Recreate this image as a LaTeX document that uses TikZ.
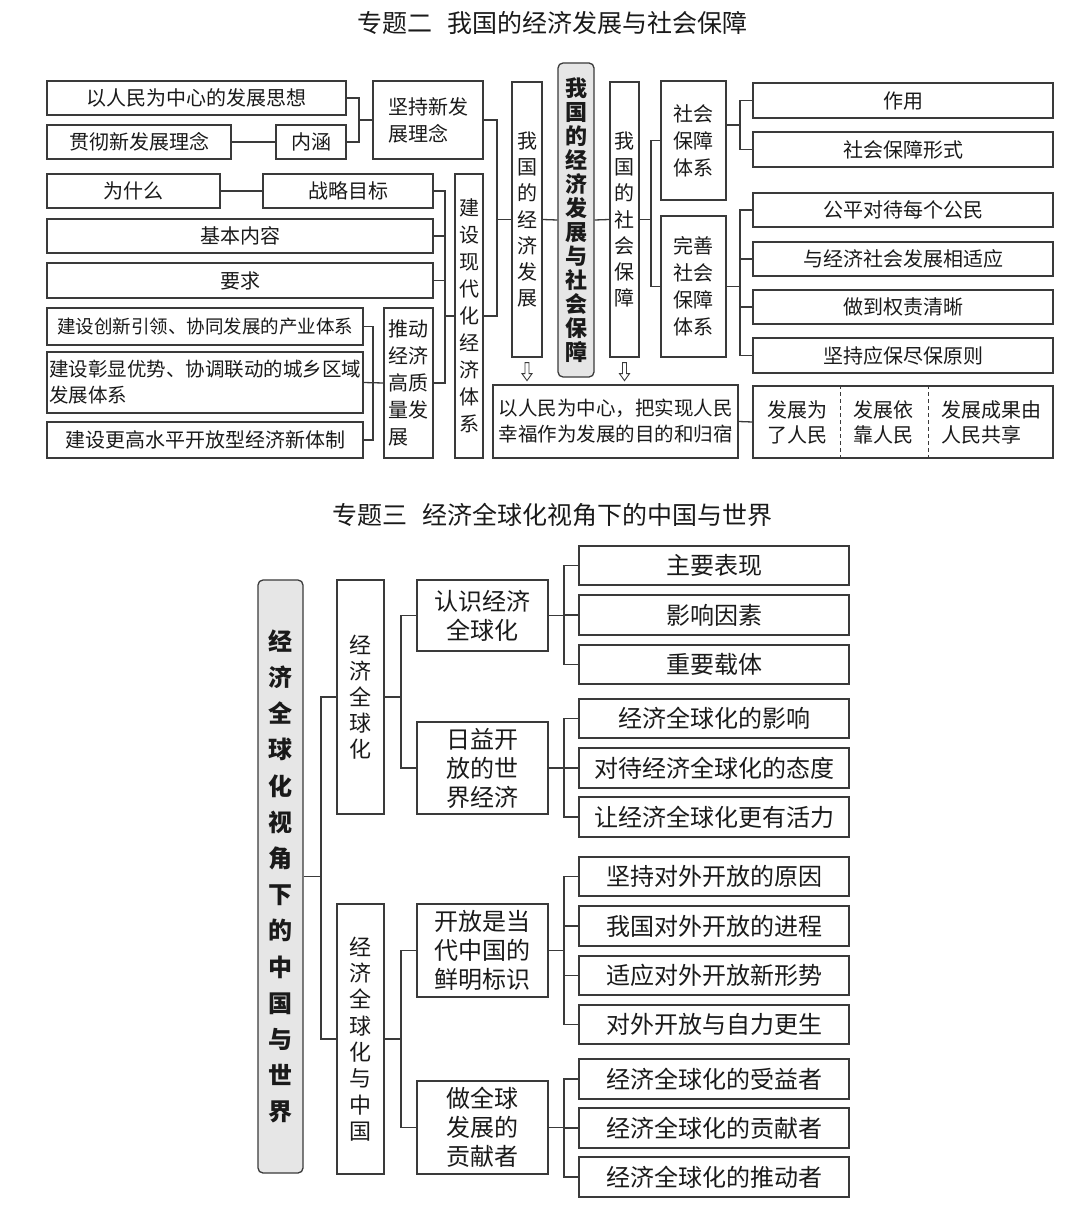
\documentclass[tikz,border=0pt]{standalone}
\usepackage{fontspec}
\setmainfont{Noto Sans CJK SC}
\usetikzlibrary{calc}
\definecolor{lc}{HTML}{3A3A3A}
\definecolor{tc}{HTML}{1A1A1A}
\definecolor{bgc}{HTML}{E6E6E6}
\newcommand\fsz[2]{\fontsize{#1pt}{#2pt}\selectfont}
\newcommand\bx[7][]{%
  \pgfmathsetmacro\bxw{#5-#3}\pgfmathsetmacro\bxh{#6-#4}%
  \pgfmathsetmacro\bxx{(#3+#5)/2}\pgfmathsetmacro\bxy{(#4+#6)/2}%
  \node[box,minimum width=\bxw pt,minimum height=\bxh pt,#1] (#2) at (\bxx,\bxy) {#7};}
\newcommand\harrow[1]{\draw[lc,line width=0.9pt,fill=white,line join=miter]
  ($(#1)+(-2,5)$) -- ++(4,0) -- ++(0,11) -- ++(3,0) -- ++(-5,7) -- ++(-5,-7) -- ++(3,0) -- cycle;}
\tikzset{
  box/.style={draw=lc,line width=1.3pt,fill=white,inner sep=0pt,text=tc,font=\fsz{20}{27},align=center},
  rbox/.style={rounded corners=5pt,fill=bgc,font=\bfseries\fsz{22}{24}},
  ln/.style={draw=lc,line width=1.3pt},
  txt/.style={inner sep=0pt,text=tc,font=\fsz{20}{25},align=center},
  ttl/.style={inner sep=0pt,text=tc,font=\fsz{25}{29}},
}
\begin{document}
\begin{tikzpicture}[x=1pt,y=-1pt]
\useasboundingbox[fill=white] (0,0) rectangle (1080,1220);
% ---------------- Title 1
\node[ttl] (t1) at (552,23) {专题二\hspace{0.6em}我国的经济发展与社会保障};
% ---------------- top section boxes
\bx{a1}{47}{81}{346}{115}{以人民为中心的发展思想}
\bx{a2}{47}{125}{231}{159}{贯彻新发展理念}
\bx{a3}{276}{125}{346}{159}{内涵}
\bx[align=left]{a4}{373}{81}{483}{159}{坚持新发\\展理念}
\bx{b1}{47}{174}{220}{208}{为什么}
\bx{b2}{263}{174}{433}{208}{战略目标}
\bx{b3}{47}{219}{433}{253}{基本内容}
\bx{b4}{47}{263}{433}{298}{要求}
\bx[font=\fsz{18.5}{24}]{c1}{47}{308}{363}{345}{建设创新引领、协同发展的产业体系}
\bx[align=left,font=\fsz{19.5}{26}]{c2}{47}{352}{363}{413}{建设彰显优势、协调联动的城乡区域\\发展体系}
\bx{c3}{47}{422}{363}{458}{建设更高水平开放型经济新体制}
\bx[align=left]{c4}{384}{308}{433}{458}{推动\\经济\\高质\\量发\\展}
\bx{d1}{455}{174}{483}{458}{建\\设\\现\\代\\化\\经\\济\\体\\系}
\bx[font=\fsz{20}{26.3}]{e1}{512}{82}{542}{357}{我\\国\\的\\经\\济\\发\\展}
\bx[rbox]{e0}{558}{63}{594}{377}{我\\国\\的\\经\\济\\发\\展\\与\\社\\会\\保\\障}
\bx[font=\fsz{20}{26.3}]{e2}{610}{82}{639}{357}{我\\国\\的\\社\\会\\保\\障}
\bx{f1}{661}{81}{726}{200}{社会\\保障\\体系}
\bx{f2}{661}{216}{726}{357}{完善\\社会\\保障\\体系}
\bx{g1}{753}{83}{1053}{118}{作用}
\bx{g2}{753}{132}{1053}{167}{社会保障形式}
\bx{g3}{753}{193}{1053}{227}{公平对待每个公民}
\bx{g4}{753}{242}{1053}{276}{与经济社会发展相适应}
\bx{g5}{753}{290}{1053}{324}{做到权责清晰}
\bx{g6}{753}{338}{1053}{373}{坚持应保尽保原则}
\bx[font=\fsz{19.5}{26}]{h1}{493}{385}{738}{458}{以人民为中心，把实现人民\\幸福作为发展的目的和归宿}
\bx{h2}{753}{386}{1053}{458}{}
\node[txt] (h2a) at (797,422) {发展为\\了人民};
\node[txt] (h2b) at (883,422) {发展依\\靠人民};
\node[txt,align=left] (h2c) at (991,422) {发展成果由\\人民共享};
\draw[ln,line width=1pt,dash pattern=on 4pt off 3pt] (h2.north -| 840,0) -- (h2.south -| 840,0);
\draw[ln,line width=1pt,dash pattern=on 4pt off 3pt] (h2.north -| 928,0) -- (h2.south -| 928,0);
% ---------------- top connectors
\coordinate (k1) at (359,0);
\coordinate (k2) at (497,0);
\coordinate (k3) at (445,0);
\coordinate (k4) at (373,0);
\coordinate (k5) at (651,0);
\coordinate (k6) at (740,0);
\draw[ln] (a2.east) -- (a3.west);
\draw[ln] (a1.east) -| (k1 |- a3.east) -- (a3.east);
\draw[ln] (k1 |- a4.west) -- (a4.west);
\draw[ln] (a4.east) -| (k2 |- d1.east) -- (d1.east);
\draw[ln] (k2 |- e1.west) -- (e1.west);
\draw[ln] (b1.east) -- (b2.west);
\draw[ln] (b2.east) -| (k3 |- c4.east) -- (c4.east);
\draw[ln] (b3.east) -- (k3 |- b3.east);
\draw[ln] (b4.east) -- (k3 |- b4.east);
\draw[ln] (k3 |- d1.west) -- (d1.west);
\draw[ln] (c1.east) -| (k4 |- c3.east) -- (c3.east);
\draw[ln] (c2.east) -- (c4.west);
\draw[ln] (e1.east) -- (e0.west);
\draw[ln] (e0.east) -- (e2.west);
\draw[ln] (f1.west) -| (k5 |- f2.west) -- (f2.west);
\draw[ln] (e2.east) -- (k5 |- e2.east);
\coordinate (m1) at ($(g1.west)!0.5!(g2.west)$);
\draw[ln] (g1.west) -| (k6 |- g2.west) -- (g2.west);
\draw[ln] (f1.east |- m1) -- (k6 |- m1);
\draw[ln] (g3.west) -| (k6 |- g6.west) -- (g6.west);
\draw[ln] (g4.west) -- (k6 |- g4.west);
\draw[ln] (g5.west) -- (k6 |- g5.west);
\draw[ln] (f2.east) -- (k6 |- f2.east);
\draw[ln] (h1.east) -- (h2.west);
\harrow{e1.south}
\harrow{e2.south}
% ---------------- Title 2
\node[ttl] (t2) at (552,515) {专题三\hspace{0.6em}经济全球化视角下的中国与世界};
% ---------------- bottom section boxes
\bx[rbox,font=\bfseries\fsz{24}{36.2}]{p0}{258}{580}{303}{1173}{经\\济\\全\\球\\化\\视\\角\\下\\的\\中\\国\\与\\世\\界}
\bx[font=\fsz{22}{26}]{q1}{337}{580}{384}{814}{经\\济\\全\\球\\化}
\bx[font=\fsz{22}{26.3}]{q2}{337}{904}{384}{1174}{经\\济\\全\\球\\化\\与\\中\\国}
\tikzset{box/.append style={font=\fsz{24}{29}}}
\bx{r1}{417}{580}{548}{651}{认识经济\\全球化}
\bx{r2}{417}{722}{548}{814}{日益开\\放的世\\界经济}
\bx{r3}{417}{904}{548}{997}{开放是当\\代中国的\\鲜明标识}
\bx{r4}{417}{1081}{548}{1174}{做全球\\发展的\\贡献者}
\bx{s1}{579}{546}{849}{585}{主要表现}
\bx{s2}{579}{595}{849}{635}{影响因素}
\bx{s3}{579}{645}{849}{684}{重要载体}
\bx{s4}{579}{699}{849}{738}{经济全球化的影响}
\bx{s5}{579}{748}{849}{788}{对待经济全球化的态度}
\bx{s6}{579}{797}{849}{837}{让经济全球化更有活力}
\bx{s7}{579}{857}{849}{896}{坚持对外开放的原因}
\bx{s8}{579}{906}{849}{946}{我国对外开放的进程}
\bx{s9}{579}{956}{849}{995}{适应对外开放新形势}
\bx{s10}{579}{1005}{849}{1044}{对外开放与自力更生}
\bx{s11}{579}{1059}{849}{1099}{经济全球化的受益者}
\bx{s12}{579}{1108}{849}{1148}{经济全球化的贡献者}
\bx{s13}{579}{1157}{849}{1197}{经济全球化的推动者}
% ---------------- bottom connectors
\coordinate (k7) at (321,0);
\coordinate (k8) at (401,0);
\coordinate (k9) at (564,0);
\draw[ln] (q1.west) -| (k7 |- q2.west) -- (q2.west);
\draw[ln] (p0.east) -- (k7 |- p0.east);
\draw[ln] (r1.west) -| (k8 |- r2.west) -- (r2.west);
\draw[ln] (q1.east) -- (k8 |- q1.east);
\draw[ln] (r3.west) -| (k8 |- r4.west) -- (r4.west);
\draw[ln] (q2.east) -- (k8 |- q2.east);
\draw[ln] (s1.west) -| (k9 |- s3.west) -- (s3.west);
\draw[ln] (s2.west) -- (k9 |- s2.west);
\draw[ln] (r1.east) -- (k9 |- r1.east);
\draw[ln] (s4.west) -| (k9 |- s6.west) -- (s6.west);
\draw[ln] (s5.west) -- (k9 |- s5.west);
\draw[ln] (r2.east) -- (k9 |- r2.east);
\draw[ln] (s7.west) -| (k9 |- s10.west) -- (s10.west);
\draw[ln] (s8.west) -- (k9 |- s8.west);
\draw[ln] (s9.west) -- (k9 |- s9.west);
\draw[ln] (r3.east) -- (k9 |- r3.east);
\draw[ln] (s11.west) -| (k9 |- s13.west) -- (s13.west);
\draw[ln] (s12.west) -- (k9 |- s12.west);
\draw[ln] (r4.east) -- (k9 |- r4.east);
\end{tikzpicture}
\end{document}
